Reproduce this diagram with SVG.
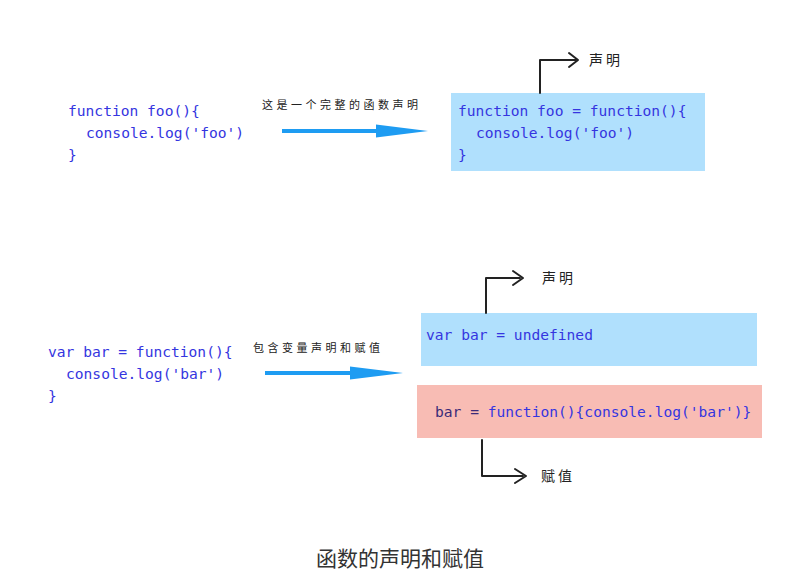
<svg xmlns="http://www.w3.org/2000/svg" width="800" height="577" viewBox="0 0 800 577">
<defs>
<style>
.code{font-family:"DejaVu Sans Mono","Liberation Mono",monospace;font-size:14.6px;fill:#3535e0}
.note{font-family:"Noto Sans CJK SC",sans-serif;font-size:11px;fill:#222;letter-spacing:3.5px}
.lbl{font-family:"Noto Sans CJK SC",sans-serif;font-size:14px;fill:#222;letter-spacing:3px}
.conn{fill:none;stroke:#222;stroke-width:2;stroke-linejoin:round;stroke-linecap:round}
.bar{stroke:#1e9cf2;stroke-width:4}
.head{fill:#1e9cf2}
</style>
</defs>
<rect width="800" height="577" fill="#fff"/>

<g id="code-foo">
<text class="code" x="68" y="116">function foo(){</text>
<text class="code" x="86" y="138">console.log('foo')</text>
<text class="code" x="68" y="160">}</text>
</g>

<g id="code-bar">
<text class="code" x="48" y="357">var bar = function(){</text>
<text class="code" x="66" y="379">console.log('bar')</text>
<text class="code" x="48" y="401">}</text>
</g>

<g id="box-foo">
<rect x="451" y="93" width="254" height="78" fill="#b0e0fd"/>
<text class="code" x="458" y="116">function foo = function(){</text>
<text class="code" x="476" y="138">console.log('foo')</text>
<text class="code" x="458" y="160">}</text>
</g>

<g id="box-var">
<rect x="421" y="313" width="336" height="53" fill="#b0e0fd"/>
<text class="code" x="426" y="340">var bar = undefined</text>
</g>

<g id="box-assign">
<rect x="417" y="385" width="345" height="53" fill="#f8bcb4"/>
<text class="code" x="435" y="417"><tspan fill="#3a2a78">bar = </tspan>function(){console.log('bar')}</text>
</g>

<g id="labels">
<text class="note" x="262" y="109">这是一个完整的函数声明</text>
<text class="note" x="253" y="352">包含变量声明和赋值</text>
<text class="lbl" x="589" y="65">声明</text>
<text class="lbl" x="542" y="283">声明</text>
<text class="lbl" x="541" y="481">赋值</text>
</g>

<g id="connectors">
<line class="bar" x1="282" y1="131" x2="378" y2="131"/>
<polygon class="head" points="376,124.5 428,131 376,137.5"/>
<line class="bar" x1="265" y1="373" x2="352" y2="373"/>
<polygon class="head" points="350,366.5 403,373 350,379.5"/>
<path class="conn" d="M540,93 V60 H576"/>
<path class="conn" d="M569,53 L578,60 L569,67"/>
<path class="conn" d="M486,313 V278 H520"/>
<path class="conn" d="M513,271 L523,278 L513,285"/>
<path class="conn" d="M482,440 V476 H523"/>
<path class="conn" d="M515,469 L526,476 L515,483"/>
</g>

<text x="400" y="566" text-anchor="middle" font-family="Noto Sans CJK SC, sans-serif" font-size="21" fill="#333">函数的声明和赋值</text>
</svg>
